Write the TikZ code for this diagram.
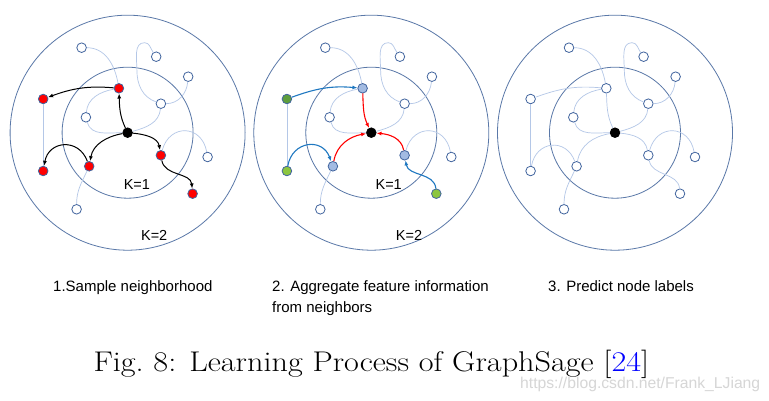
\documentclass[tikz,border=0pt]{standalone}
\usepackage{fontspec}
\newfontfamily\labelfont{Liberation Sans}
\usetikzlibrary{arrows.meta}
\definecolor{ringblue}{HTML}{5A78A8}
\definecolor{linkblue}{HTML}{B4C7E7}
\definecolor{vtxblue}{HTML}{41649E}
\definecolor{aggblue}{HTML}{A3BBE2}
\definecolor{flowblue}{HTML}{1F78C1}
\definecolor{leafdark}{HTML}{5E9E3C}
\definecolor{leaflight}{HTML}{8CC63F}
\definecolor{citeblue}{HTML}{0000FF}

\tikzset{
  ring/.style={draw=ringblue, line width=0.8pt},
  link/.style={draw=linkblue, line width=0.7pt},
  vtx/.style={circle, draw=vtxblue, line width=0.8pt, minimum size=9.6pt, inner sep=0pt},
  wht/.style={vtx, fill=white},
  hit/.style={vtx, fill=red},
  hub/.style={vtx, fill=black, draw=black},
  agg/.style={vtx, fill=aggblue},
  leafdk/.style={vtx, fill=leafdark},
  leaflt/.style={vtx, fill=leaflight},
  klabel/.style={font=\labelfont\fontsize{14.5}{15}\selectfont, inner sep=0pt},
  captext/.style={font=\labelfont\fontsize{15}{21}\selectfont, inner sep=0pt},
  samp/.style={->, draw=black, line width=1pt},
  gath/.style={->, draw=red, line width=1.1pt},
  feed/.style={->, draw=flowblue, line width=1.1pt}
}

\begin{document}
\begin{tikzpicture}[x=1pt, y=1pt, >={Latex[length=5pt,width=4pt]}]
\useasboundingbox (0,0) rectangle (769,401);
\fill[white] (0,0) rectangle (769,401);

% --- Panel 1: sample neighborhood ---
\begin{scope}[shift={(127.6,268.3)}]
\draw[ring] (0,0) circle (117.5);
\draw[ring] (0,0) circle (65.5);
\foreach \n/\x/\y/\s in {a/-46/85/wht, b/28.6/76/wht, c/60.6/56/wht, d/-8.7/44.4/hit,
    e/-84.4/33.7/hit, f/33.3/29/wht, g/-41.7/15.4/wht, o/0/0/hub, h/33.3/-22.6/hit,
    i/80/-24.3/wht, j/-38.4/-33.6/hit, k/-84.4/-38.3/hit, l/65/-61/hit, m/-51/-76.6/wht}
  \node[\s] (A-\n) at (\x,\y) {};
\coordinate (A-lp) at (9.3,62.5);
\coordinate (A-tp) at (17,90);
\node[klabel] (A-k1) at (9.3,-52.3) {K=1};
\node[klabel] (A-k2) at (26.6,-102.3) {K=2};
\end{scope}

% --- Panel 2: aggregate ---
\begin{scope}[shift={(371.3,268.3)}]
\draw[ring] (0,0) circle (117.5);
\draw[ring] (0,0) circle (65.5);
\foreach \n/\x/\y/\s in {a/-46/85/wht, b/28.6/76/wht, c/60.6/56/wht, d/-8.7/44.4/agg,
    e/-84.4/33.7/leafdk, f/33.3/29/wht, g/-41.7/15.4/wht, o/0/0/hub, h/33.3/-22.6/agg,
    i/80/-24.3/wht, j/-38.4/-33.6/agg, k/-84.4/-38.3/leaflt, l/65/-61/leaflt, m/-51/-76.6/wht}
  \node[\s] (B-\n) at (\x,\y) {};
\coordinate (B-lp) at (9.3,62.5);
\coordinate (B-tp) at (17,90);
\node[klabel] (B-k1) at (17.4,-52.3) {K=1};
\node[klabel] (B-k2) at (37.7,-102.3) {K=2};
\end{scope}

% --- Panel 3: predict ---
\begin{scope}[shift={(615,268.3)}]
\draw[ring] (0,0) circle (117.5);
\draw[ring] (0,0) circle (65.5);
\foreach \n/\x/\y/\s in {a/-46/85/wht, b/28.6/76/wht, c/60.6/56/wht, d/-8.7/44.4/wht,
    e/-84.4/33.7/wht, f/33.3/29/wht, g/-41.7/15.4/wht, o/0/0/hub, h/33.3/-22.6/wht,
    i/80/-24.3/wht, j/-38.4/-33.6/wht, k/-84.4/-38.3/wht, l/65/-61/wht, m/-51/-76.6/wht}
  \node[\s] (C-\n) at (\x,\y) {};
\coordinate (C-lp) at (9.3,62.5);
\coordinate (C-tp) at (17,90);
\end{scope}

% shared links
\foreach \p in {A,B,C} {
  \draw[link] (\p-a) to[out=0,in=100] (\p-d);
  \draw[link] (\p-d) to[out=190,in=85] (\p-g);
  \draw[link] (\p-g) to[out=-75,in=180] (\p-o);
  \draw[link] (\p-o) to[out=15,in=-95] (\p-f);
  \draw[link] (\p-f) to[out=0,in=-95] (\p-c);
  \draw[link] (\p-f) to[out=160,in=-90] (\p-lp) to[out=90,in=180] (\p-tp) to[out=0,in=125] (\p-b);
  \draw[link] (\p-h) to[out=75,in=100,looseness=1.6] (\p-i);
  \draw[link] (\p-j) to[out=-115,in=90] (\p-m);
  \draw[link] (\p-e) -- (\p-k);
}

% links only in panel 3
\draw[link] (C-d) to[out=-88,in=115] (C-o);
\draw[link] (C-e) to[out=20,in=175] (C-d);
\draw[link] (C-o) to[out=-5,in=100] (C-h);
\draw[link] (C-h) to[out=-80,in=95] (C-l);
\draw[link] (C-o) to[out=190,in=80] (C-j);
\draw[link] (C-j) to[out=110,in=80,looseness=1.5] (C-k);

% sampling arrows
\draw[samp] (A-o) to[out=115,in=-88] (A-d);
\draw[samp] (A-d) to[out=175,in=20] (A-e);
\draw[samp] (A-o) to[out=190,in=80] (A-j);
\draw[samp] (A-j) to[out=110,in=80,looseness=1.5] (A-k);
\draw[samp] (A-o) to[out=-5,in=100] (A-h);
\draw[samp] (A-h) to[out=-80,in=95] (A-l);

% aggregation arrows
\draw[feed] (B-e) to[out=20,in=175] (B-d);
\draw[feed] (B-k) to[out=80,in=110,looseness=1.5] (B-j);
\draw[feed] (B-l) to[out=95,in=-80] (B-h);
\draw[gath] (B-d) to[out=-88,in=115] (B-o);
\draw[gath] (B-j) to[out=80,in=190] (B-o);
\draw[gath] (B-h) to[out=100,in=-5] (B-o);

% captions
\node[captext, anchor=base west] (cap1) at (53,109.5) {1.Sample neighborhood};
\node[captext, anchor=base west, align=left] (cap2) at (272,88.5) {2. Aggregate feature information\\from neighbors};
\node[captext, anchor=base west] (cap3) at (548,109.5) {3. Predict node labels};

\node[anchor=base west, inner sep=0pt, font=\fontsize{28.5}{30}\selectfont] (fig) at (93.3,29.3)
  {\scalebox{1.13}[1]{Fig.~8: Learning Process of GraphSage [\textcolor{citeblue}{24}]}};
\node[anchor=base west, inner sep=0pt, text=black!16, font=\labelfont\fontsize{15.7}{16}\selectfont] (mark) at (520,12.7)
  {https://blog.csdn.net/Frank\_LJiang};

\end{tikzpicture}
\end{document}
